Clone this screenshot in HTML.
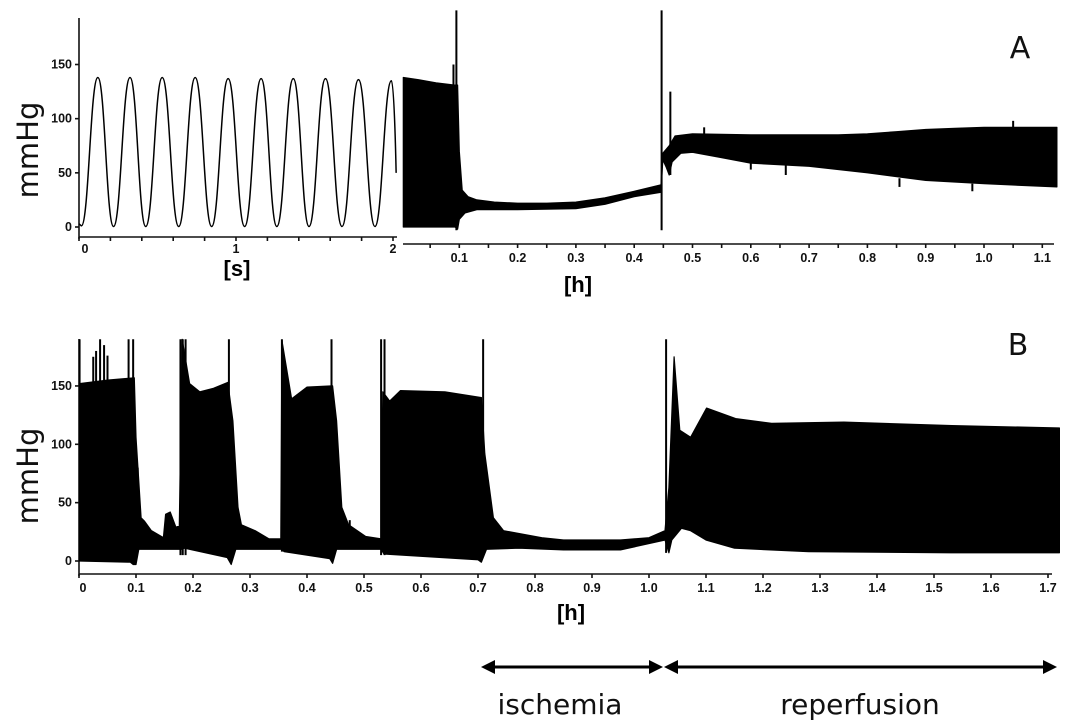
<!DOCTYPE html>
<html><head><meta charset="utf-8">
<style>
html,body{margin:0;padding:0;background:#fff;}
svg{display:block;}
.tk{font-family:"Liberation Sans",Arial,sans-serif;font-weight:bold;font-size:12.5px;fill:#111;}
.ax{stroke:#111;stroke-width:1.6;fill:none;}
.big{font-family:"DejaVu Sans","Liberation Sans",sans-serif;fill:#111;}
</style></head>
<body>
<svg id="fig" width="1076" height="727" viewBox="0 0 1076 727" xmlns="http://www.w3.org/2000/svg">
<g id="panelA"></g>
<g id="panelB"></g>
<text class="big" x="30" y="150" font-size="29" text-anchor="middle" transform="rotate(-90 30 150)" dominant-baseline="middle">mmHg</text>
<text class="big" x="30" y="476" font-size="29" text-anchor="middle" transform="rotate(-90 30 476)" dominant-baseline="middle">mmHg</text>
<text x="237" y="276" font-family="Liberation Sans, sans-serif" font-weight="bold" font-size="22" text-anchor="middle">[s]</text>
<text x="578" y="292" font-family="Liberation Sans, sans-serif" font-weight="bold" font-size="22" text-anchor="middle">[h]</text>
<text x="571" y="620" font-family="Liberation Sans, sans-serif" font-weight="bold" font-size="22" text-anchor="middle">[h]</text>
<text class="big" x="1020" y="58" font-size="30" text-anchor="middle">A</text>
<text class="big" x="1018" y="355" font-size="30" text-anchor="middle">B</text>
<g>
<line x1="490" y1="667" x2="656" y2="667" stroke="#000" stroke-width="3"/>
<polygon points="481,667 495,660 495,674" fill="#000"/>
<polygon points="663,667 649,660 649,674" fill="#000"/>
</g>
<g>
<line x1="670" y1="667" x2="1048" y2="667" stroke="#000" stroke-width="3"/>
<polygon points="664,667 678,660 678,674" fill="#000"/>
<polygon points="1057,667 1043,660 1043,674" fill="#000"/>
</g>
<text class="big" x="560" y="714" font-size="28" text-anchor="middle">ischemia</text>
<text class="big" x="860" y="714" font-size="28" text-anchor="middle">reperfusion</text>
</svg>
<script>
// ---- Panel A left: single-pulse waveform (seconds) ----
const wavePeakT=[0.12,0.325,0.53,0.74,0.95,1.16,1.365,1.57,1.78,1.99];
const wavePeakV=[138,138,138,138,137,137,137,137,136,135];
const waveTroughT=[0.015,0.22,0.425,0.635,0.845,1.055,1.26,1.465,1.675,1.885];
const waveTroughV=[1,0.5,0.5,0.5,0.5,0.5,0.5,0.5,0.5,0.5];
const waveEnd=[2.02,50];
const waveXTicks=[0,1,2];
const yTicks=[0,50,100,150];
// ---- Panel A right: envelope (hours) ----
const aUpT=[0.004,0.03,0.06,0.092,0.097,0.1,0.105,0.115,0.13,0.16,0.2,0.25,0.3,0.35,0.4,0.446,0.449,0.46,0.47,0.5,0.6,0.7,0.75,0.8,0.85,0.9,0.95,1.0,1.05,1.125];
const aUpV=[138,136,133,131,131,70,34,28,25,23,22,22,23,27,33,39,68,75,84,86,85,85,85,86,88,90,91,92,92,92];
const aLoT=[0.004,0.05,0.093,0.097,0.1,0.11,0.13,0.2,0.3,0.35,0.4,0.446,0.449,0.455,0.46,0.465,0.48,0.5,0.55,0.6,0.7,0.8,0.9,1.0,1.125];
const aLoV=[0,0,0,-2,7,13,16,16,17,21,28,32,62,55,48,60,68,69,64,59,56,50,43,40,37];
const aSpikeT=[0.09,0.095,0.447,0.462,0.52,0.6,0.66,0.855,0.98,1.05];
const aSpikeTop=[150,200,200,125,92,60,60,45,40,98];
const aSpikeBot=[100,-3,-3,48,80,53,48,37,33,85];
const aXTicks=[0.1,0.2,0.3,0.4,0.5,0.6,0.7,0.8,0.9,1.0,1.1];
// ---- Panel B: envelope (hours) ----
const bUpT=[0.001,0.05,0.097,0.1,0.109,0.115,0.127,0.148,0.152,0.16,0.17,0.176,0.181,0.194,0.212,0.236,0.261,0.27,0.279,0.285,0.309,0.333,0.354,0.356,0.373,0.4,0.445,0.452,0.461,0.473,0.503,0.53,0.533,0.545,0.564,0.642,0.706,0.712,0.727,0.745,0.812,0.85,0.95,1.0,1.028,1.035,1.044,1.054,1.073,1.101,1.152,1.215,1.342,1.532,1.72];
const bUpV=[152,155,157,106,37,34,26,20,40,42,29,30,190,152,145,148,153,120,46,31,26,19,19,189,139,149,150,120,46,31,21,19,145,137,146,145,140,92,37,26,20,18,18,20,26,63,175,112,106,131,122,118,119,116,114];
const bLoT=[0.001,0.09,0.095,0.1,0.105,0.18,0.185,0.26,0.267,0.275,0.355,0.36,0.44,0.445,0.452,0.53,0.535,0.7,0.706,0.715,0.772,0.85,0.95,1.028,1.035,1.04,1.057,1.073,1.1,1.15,1.28,1.53,1.72];
const bLoV=[0,-1,-3,-3,10,10,11,3,-3,10,10,8,2,-2,10,10,6,1,-1,10,11,9.5,9.5,18,7,18,28,26,18,11,8,7,7];
const bSpikeT=[0.001,0.025,0.03,0.037,0.044,0.05,0.087,0.095,0.103,0.178,0.182,0.187,0.263,0.356,0.443,0.475,0.53,0.536,0.709,1.03];
const bSpikeTop=[190,175,180,190,185,176,190,190,80,190,190,190,190,190,190,35,190,190,190,190];
const bSpikeBot=[150,150,150,150,150,150,150,0,20,5,5,5,5,8,0,20,5,5,5,7];
const bXTicks=[0,0.1,0.2,0.3,0.4,0.5,0.6,0.7,0.8,0.9,1.0,1.1,1.2,1.3,1.4,1.5,1.6,1.7];

const NS="http://www.w3.org/2000/svg";
function mk(parent,tag,attrs){const e=document.createElementNS(NS,tag);for(const k in attrs)e.setAttribute(k,attrs[k]);parent.appendChild(e);return e;}
const gA=document.getElementById('panelA'), gB=document.getElementById('panelB');

const xs=t=>79+t*157;
const xa=t=>401+t*583;
const ya=v=>227-v*1.0833;
const xb=t=>79+t*570;
const yb=v=>561-v*1.167;

let e=mk(gA,'line',{x1:79,y1:18,x2:79,y2:239,class:'ax'});
 
e=mk(gA,'line',{x1:79,y1:237,x2:397,y2:237,class:'ax'});
 
yTicks.forEach(v=>{
  const y=ya(v);
  mk(gA,'line',{x1:75,y1:y,x2:79,y2:y,class:'ax'});
  const t=mk(gA,'text',{x:72,y:y+4,class:'tk','text-anchor':'end'});t.textContent=v;
   
});
for(let i=0;i<=10;i++){const x=xs(i*0.2);mk(gA,'line',{x1:x,y1:237,x2:x,y2:241,class:'ax'});}
waveXTicks.forEach(v=>{
  const t=mk(gA,'text',{x:xs(v)+(v===0?6:0),y:253,class:'tk','text-anchor':'middle'});t.textContent=v;
   
});
let d='M'+xs(0)+','+ya(3);
d+=' L'+xs(waveTroughT[0])+','+ya(waveTroughV[0]);
let prev=[waveTroughT[0],waveTroughV[0]];
const pts=[];
for(let i=0;i<wavePeakT.length;i++){
  pts.push([wavePeakT[i],wavePeakV[i]]);
  if(i+1<waveTroughT.length) pts.push([waveTroughT[i+1],waveTroughV[i+1]]);
}
pts.push(waveEnd);
pts.forEach((p,i)=>{
  const dt=p[0]-prev[0];
  const last=(i===pts.length-1);
  d+=' C'+xs(prev[0]+dt*0.45)+','+ya(prev[1])+' '+(last?xs(p[0]-dt*0.2):xs(p[0]-dt*0.45))+','+ya(last?p[1]+40:p[1])+' '+xs(p[0])+','+ya(p[1]);
  prev=p;
});
e=mk(gA,'path',{d:d,fill:'none',stroke:'#000','stroke-width':1.5});
 

e=mk(gA,'line',{x1:403,y1:244,x2:1054,y2:244,class:'ax'});
 
for(let i=1;i<=22;i++){const x=xa(i*0.05);mk(gA,'line',{x1:x,y1:244,x2:x,y2:248,class:'ax'});}
aXTicks.forEach(v=>{
  const t=mk(gA,'text',{x:xa(v),y:262,class:'tk','text-anchor':'middle'});t.textContent=v.toFixed(1);
   
});
function envelope(g,upT,upV,loT,loV,xf,yf,name){
  let p=[];
  upT.forEach((t,i)=>p.push(xf(t).toFixed(1)+','+yf(upV[i]).toFixed(1)));
  for(let i=loT.length-1;i>=0;i--)p.push(xf(loT[i]).toFixed(1)+','+yf(loV[i]).toFixed(1));
  const el=mk(g,'polygon',{points:p.join(' '),fill:'#000',stroke:'#000','stroke-width':1.2,'stroke-linejoin':'round'});
  
  
}
function spikes(g,T,top,bot,xf,yf,name){
  T.forEach((t,i)=>{
    const el=mk(g,'line',{x1:xf(t),x2:xf(t),y1:yf(top[i]),y2:yf(bot[i]),stroke:'#000','stroke-width':2});
    
    
  });
}
envelope(gA,aUpT,aUpV,aLoT,aLoV,xa,ya,'pressure-trace-a');
spikes(gA,aSpikeT,aSpikeTop,aSpikeBot,xa,ya,'artifact-spike-a');

e=mk(gB,'line',{x1:79,y1:339,x2:79,y2:576,class:'ax'});
 
e=mk(gB,'line',{x1:79,y1:574,x2:1052,y2:574,class:'ax'});
 
yTicks.forEach(v=>{
  const y=yb(v);
  mk(gB,'line',{x1:75,y1:y,x2:79,y2:y,class:'ax'});
  const t=mk(gB,'text',{x:72,y:y+4,class:'tk','text-anchor':'end'});t.textContent=v;
   
});
bXTicks.forEach(v=>{
  const x=xb(v);
  mk(gB,'line',{x1:x,y1:574,x2:x,y2:578,class:'ax'});
  const t=mk(gB,'text',{x:x+(v===0?4:0),y:592,class:'tk','text-anchor':'middle'});t.textContent=(v===0?'0':v.toFixed(1));
   
});
envelope(gB,bUpT,bUpV,bLoT,bLoV,xb,yb,'pressure-trace-b');
spikes(gB,bSpikeT,bSpikeTop,bSpikeBot,xb,yb,'artifact-spike-b');
</script>
</body></html>
